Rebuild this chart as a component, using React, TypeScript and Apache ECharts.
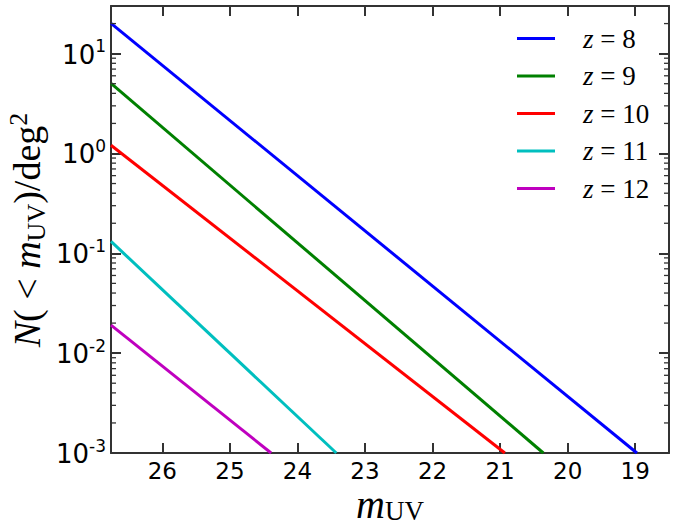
import React, { useEffect, useRef } from "react";
import * as echarts from "echarts";

// ---- data ----
const X_MIN = 18.5;
const X_MAX = 26.76;
const Y_MIN = 0.001;
const Y_MAX = 30;

const seriesNames = ["z=8", "z=9", "z=10", "z=11", "z=12"];
const seriesColors = ["#0000ff", "#008000", "#ff0000", "#00bfbf", "#bf00bf"];

const mUV_z8 = [26.76, 18.975];
const N_z8 = [20.1, 0.001];
const mUV_z9 = [26.76, 20.36];
const N_z9 = [5.03, 0.001];
const mUV_z10 = [26.76, 20.93];
const N_z10 = [1.21, 0.001];
const mUV_z11 = [26.76, 23.425];
const N_z11 = [0.1316, 0.001];
const mUV_z12 = [26.76, 24.39];
const N_z12 = [0.0191, 0.001];

const mUVs = [mUV_z8, mUV_z9, mUV_z10, mUV_z11, mUV_z12];
const Ns = [N_z8, N_z9, N_z10, N_z11, N_z12];

const minorTickValues = [
  0.002, 0.003, 0.004, 0.005, 0.006, 0.007, 0.008, 0.009,
  0.02, 0.03, 0.04, 0.05, 0.06, 0.07, 0.08, 0.09,
  0.2, 0.3, 0.4, 0.5, 0.6, 0.7, 0.8, 0.9,
  2, 3, 4, 5, 6, 7, 8, 9,
  20,
];

const AX = "#333333";
const TICK_FONT = "DejaVu Sans";
const MATH_FONT = "Liberation Serif";

export default function App() {
  const ref = useRef<HTMLDivElement>(null);
  useEffect(() => {
    document.body.style.margin = "0";
    const chart = echarts.init(ref.current!, null, { renderer: "svg" });

    const xLabelFmt = (v: number) =>
      Math.abs(v - Math.round(v)) < 1e-6 ? String(Math.round(v)) : "";
    const yLabelFmt = (v: number) => {
      const l = Math.log10(v);
      const e = Math.round(l);
      if (Math.abs(l - e) > 1e-6) return "";
      return `{b|10}{s|${e}}`;
    };

    const baseX = {
      type: "value",
      min: X_MIN,
      max: X_MAX,
      inverse: true,
      minInterval: 1,
      maxInterval: 1,
      splitLine: { show: false },
      axisLine: { show: true, onZero: false, lineStyle: { color: AX, width: 2 } },
      axisTick: { show: true, inside: true, length: 10, lineStyle: { color: AX, width: 2 } },
    };
    const baseY = {
      type: "log",
      logBase: 10,
      min: Y_MIN,
      max: Y_MAX,
      splitLine: { show: false },
      axisLine: { show: true, onZero: false, lineStyle: { color: AX, width: 2 } },
      axisTick: { show: true, inside: true, length: 10, lineStyle: { color: AX, width: 2 } },
    };

    const lineSeries = seriesNames.map((name, i) => ({
      name,
      type: "line",
      xAxisIndex: 0,
      yAxisIndex: 0,
      data: mUVs[i].map((m, j) => [m, Ns[i][j]]),
      symbol: "none",
      color: seriesColors[i],
      lineStyle: { width: 3, color: seriesColors[i] },
      clip: true,
      z: 3,
    }));

    const minorSeries = {
      type: "custom",
      xAxisIndex: 0,
      yAxisIndex: 0,
      silent: true,
      clip: false,
      z: 5,
      data: minorTickValues.map((v) => [X_MAX, v]),
      renderItem: (params: any, api: any) => {
        const cs = params.coordSys;
        const y = api.coord([api.value(0), api.value(1)])[1];
        const st = { stroke: AX, lineWidth: 1.3 };
        return {
          type: "group",
          children: [
            { type: "line", shape: { x1: cs.x, y1: y, x2: cs.x + 5, y2: y }, style: st },
            {
              type: "line",
              shape: { x1: cs.x + cs.width - 5, y1: y, x2: cs.x + cs.width, y2: y },
              style: st,
            },
          ],
        };
      },
    };

    const titleRichX = {
      m: { fontFamily: MATH_FONT, fontStyle: "italic", fontSize: 40, lineHeight: 40, color: "#000" },
      s: { fontFamily: MATH_FONT, fontSize: 27, lineHeight: 24, verticalAlign: "bottom", color: "#000" },
    };
    const titleRichY = {
      i: { fontFamily: MATH_FONT, fontStyle: "italic", fontSize: 38, lineHeight: 44, color: "#000" },
      r: { fontFamily: MATH_FONT, fontSize: 38, lineHeight: 44, color: "#000" },
      s: { fontFamily: MATH_FONT, fontSize: 26, lineHeight: 27, verticalAlign: "bottom", color: "#000" },
      p: { fontFamily: MATH_FONT, fontSize: 26, lineHeight: 27, verticalAlign: "top", color: "#000" },
    };

    chart.setOption({
      animation: false,
      backgroundColor: "#ffffff",
      grid: { left: 111, right: 7, top: 6, bottom: 74 },
      xAxis: [
        {
          ...baseX,
          position: "bottom",
          axisLabel: {
            formatter: xLabelFmt,
            fontSize: 23,
            fontFamily: TICK_FONT,
            color: "#000",
            margin: 6,
          },
        },
        { ...baseX, position: "top", axisLabel: { show: false } },
      ],
      yAxis: [
        {
          ...baseY,
          position: "left",
          axisLabel: {
            formatter: yLabelFmt,
            margin: 5,
            color: "#000",
            fontSize: 26,
            fontFamily: TICK_FONT,
            rich: {
              b: { fontSize: 26, fontFamily: TICK_FONT, lineHeight: 32, color: "#000", padding: [2, 0, 0, 0] },
              s: { fontSize: 17, fontFamily: TICK_FONT, lineHeight: 17, verticalAlign: "top", color: "#000" },
            },
          },
        },
        { ...baseY, position: "right", axisLabel: { show: false } },
      ],
      legend: {
        orient: "vertical",
        left: 517,
        top: 25,
        padding: 0,
        itemWidth: 38,
        itemHeight: 3,
        itemGap: 10.5,
        icon: "rect",
        selectedMode: false,
        data: seriesNames,
        formatter: (name: string) => `{i|z}{r| = ${name.split("=")[1]}}`,
        textStyle: {
          padding: [0, 0, 0, 23],
          rich: {
            i: { fontFamily: MATH_FONT, fontStyle: "italic", fontSize: 27, lineHeight: 26, color: "#000" },
            r: { fontFamily: MATH_FONT, fontSize: 27, lineHeight: 26, color: "#000" },
          },
        },
      },
      graphic: [
        {
          type: "text",
          x: 390,
          y: 504,
          style: {
            text: "{m|m}{s|UV}",
            rich: titleRichX,
            align: "center",
            verticalAlign: "middle",
          },
        },
        {
          type: "text",
          x: 27,
          y: 230,
          rotation: Math.PI / 2,
          style: {
            text: "{i|N}{r|( < }{i|m}{s|UV}{r|)/deg}{p|2}",
            rich: titleRichY,
            align: "center",
            verticalAlign: "middle",
          },
        },
      ],
      series: [...lineSeries, minorSeries],
    });

    return () => chart.dispose();
  }, []);

  return (
    <div
      ref={ref}
      style={{ position: "fixed", left: 0, top: 0, width: 676, height: 527, background: "#fff" }}
    />
  );
}
